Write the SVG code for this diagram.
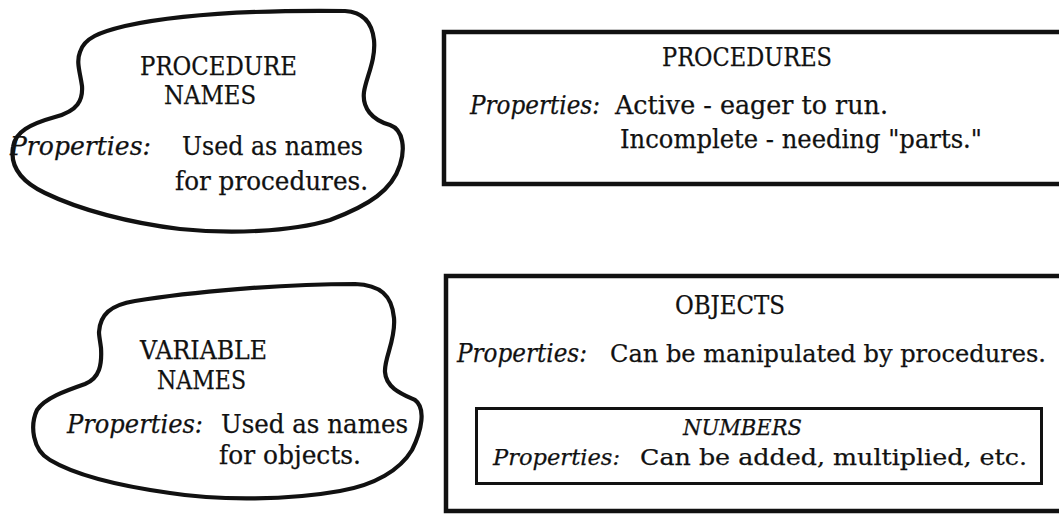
<svg xmlns="http://www.w3.org/2000/svg" width="1059" height="515" viewBox="0 0 1059 515">
  <style>
    .bg { fill: #ffffff; }
    .blob { fill: none; stroke: #111; stroke-width: 4.2; stroke-linejoin: round; }
    .frame { fill: none; stroke: #111; stroke-width: 4.5; }
    .inner { fill: none; stroke: #111; stroke-width: 3; }
    text { font-family: "DejaVu Serif", "Liberation Serif", serif; font-size: 25.5px; fill: #111; stroke: #111; stroke-width: 0.25; }
    .it { font-style: italic; }
    .small { font-size: 23px; }
    .long { font-size: 24px; }
  </style>
  <rect class="bg" x="0" y="0" width="1059" height="515"/>

  <!-- cloud: procedure names -->
  <g id="procedure-names">
    <path class="blob" d="M 80,52 C 84,38 100,32 125,26 C 180,14 260,10 345,11 C 362,12 372,22 374,40 C 376,60 366,78 364,92 C 362,108 372,120 390,125 C 404,130 405,150 400,165 C 392,190 370,205 330,220 C 290,232 230,234 180,229 C 130,223 80,210 45,193 C 20,181 10,165 13,147 C 15,132 30,124 55,117 C 78,111 83,100 82,86 C 80,72 76,62 80,52 Z"/>
    <text x="140" y="75" textLength="157" lengthAdjust="spacingAndGlyphs">PROCEDURE</text>
    <text x="164" y="104" textLength="92" lengthAdjust="spacingAndGlyphs">NAMES</text>
    <text class="it" x="10" y="155" textLength="141" lengthAdjust="spacingAndGlyphs">Properties:</text>
    <text x="182" y="155" textLength="181" lengthAdjust="spacingAndGlyphs">Used as names</text>
    <text x="175" y="190" textLength="193" lengthAdjust="spacingAndGlyphs">for procedures.</text>
  </g>

  <!-- box: procedures -->
  <g id="procedures">
    <rect class="frame" x="444" y="32" width="630" height="152"/>
    <text x="662" y="66" textLength="170" lengthAdjust="spacingAndGlyphs">PROCEDURES</text>
    <text class="it" x="470" y="114" textLength="130" lengthAdjust="spacingAndGlyphs">Properties:</text>
    <text x="615" y="114" textLength="273" lengthAdjust="spacingAndGlyphs">Active - eager to run.</text>
    <text x="620" y="148" textLength="362" lengthAdjust="spacingAndGlyphs">Incomplete - needing "parts."</text>
  </g>

  <!-- cloud: variable names -->
  <g id="variable-names">
    <path class="blob" d="M 99,332 C 100,315 110,305 135,301 C 190,292 280,284 355,284 C 380,285 392,295 394,318 C 396,340 384,358 385,372 C 386,388 402,394 415,400 C 426,408 422,430 412,450 C 400,470 375,485 340,491 C 290,500 220,501 170,493 C 120,486 75,475 50,460 C 32,450 30,425 37,410 C 45,398 65,391 85,384 C 100,378 102,364 101,348 C 100,340 99,336 99,332 Z"/>
    <text x="140" y="359" textLength="127" lengthAdjust="spacingAndGlyphs">VARIABLE</text>
    <text x="157" y="389" textLength="89" lengthAdjust="spacingAndGlyphs">NAMES</text>
    <text class="it" x="67" y="433" textLength="136" lengthAdjust="spacingAndGlyphs">Properties:</text>
    <text x="221" y="433" textLength="187" lengthAdjust="spacingAndGlyphs">Used as names</text>
    <text x="219" y="464" textLength="142" lengthAdjust="spacingAndGlyphs">for objects.</text>
  </g>

  <!-- box: objects, holding the numbers box -->
  <g id="objects">
    <rect class="frame" x="446" y="276" width="630" height="235"/>
    <text x="675" y="314" textLength="110" lengthAdjust="spacingAndGlyphs">OBJECTS</text>
    <text class="it" x="457" y="362" textLength="130" lengthAdjust="spacingAndGlyphs">Properties:</text>
    <text class="long" x="610" y="362" textLength="436" lengthAdjust="spacingAndGlyphs">Can be manipulated by procedures.</text>
  </g>

  <g id="numbers">
    <rect class="inner" x="476.5" y="408.5" width="565" height="75"/>
    <text class="it small" x="683" y="435" textLength="119" lengthAdjust="spacingAndGlyphs">NUMBERS</text>
    <text class="it small" x="493" y="465" textLength="127" lengthAdjust="spacingAndGlyphs">Properties:</text>
    <text class="small" x="640" y="465" textLength="387" lengthAdjust="spacingAndGlyphs">Can be added, multiplied, etc.</text>
  </g>

  <g id="connectors"/>
</svg>
